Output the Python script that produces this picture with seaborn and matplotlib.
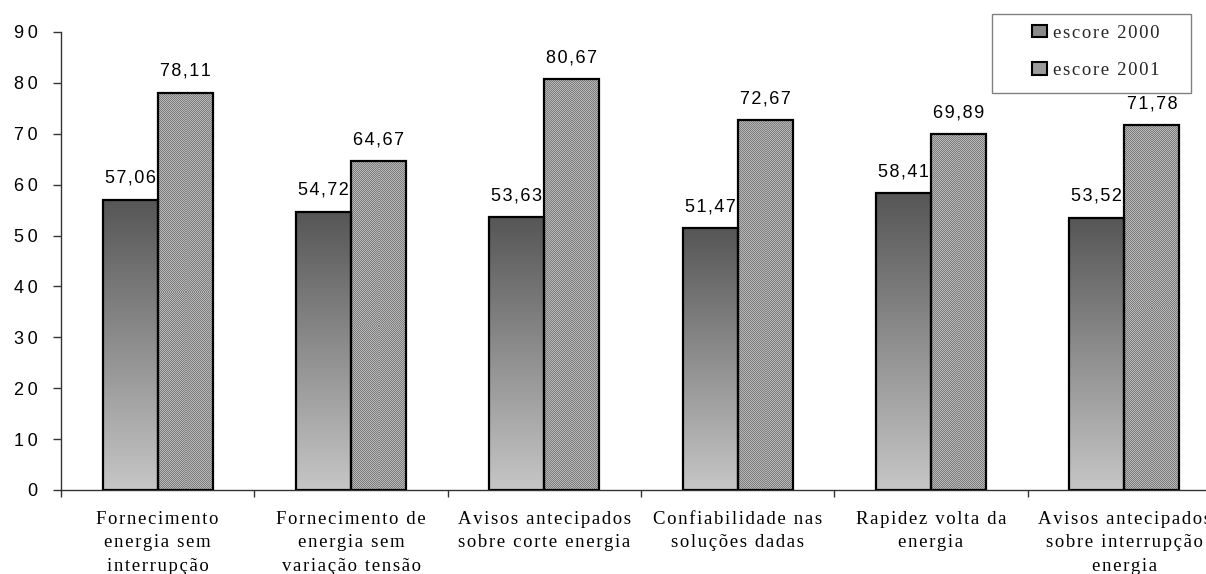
import numpy as np
import pandas as pd
import matplotlib
matplotlib.use("Agg")
import matplotlib.pyplot as plt
import seaborn as sns
from matplotlib.patches import Rectangle, Patch
from matplotlib.colors import LinearSegmentedColormap, ListedColormap

# ---- data -------------------------------------------------------------
categories = [
    "Fornecimento\nenergia sem\ninterrupção",
    "Fornecimento de\nenergia sem\nvariação tensão",
    "Avisos antecipados\nsobre corte energia",
    "Confiabilidade nas\nsoluções dadas",
    "Rapidez volta da\nenergia",
    "Avisos antecipados\nsobre interrupção\nenergia",
]
years = ["escore 2000", "escore 2001"]
scores_2000 = [57.06, 54.72, 53.63, 51.47, 58.41, 53.52]
scores_2001 = [78.11, 64.67, 80.67, 72.67, 69.89, 71.78]
y_ticks = [0, 10, 20, 30, 40, 50, 60, 70, 80, 90]

# ---- style ------------------------------------------------------------
sns.set_theme(style="white")
SANS = ["Liberation Sans", "DejaVu Sans"]
SERIF = ["Liberation Serif", "DejaVu Serif"]
plt.rcParams["font.family"] = SANS

HAIR = "\u200a"
THIN = "\u2009"


def spaced(text, sep=HAIR):
    """Letter-spaced version of a (possibly multi-line) string."""
    return "\n".join(sep.join(line) for line in text.split("\n"))


df = pd.DataFrame({
    "categoria": categories * 2,
    "ano": [years[0]] * len(categories) + [years[1]] * len(categories),
    "escore": scores_2000 + scores_2001,
})

W, H = 1206, 574
fig = plt.figure(figsize=(W / 100, H / 100), dpi=100)
fig.patch.set_facecolor("white")
ax = fig.add_axes([61 / W, 84 / H, 1160 / W, 458 / H])

sns.barplot(
    data=df, x="categoria", y="escore", hue="ano",
    width=0.57, gap=0, palette=["#8c8c8c", "#9c9c9c"], saturation=1,
    edgecolor="black", linewidth=1.6, errorbar=None, legend=False, ax=ax,
)
ax.set_xlim(-0.5, 5.5)
ax.set_ylim(0, 90)

# ---- bar fills: vertical gradient (2000) and fine checker (2001) ------
grad_cmap = LinearSegmentedColormap.from_list("g", ["#565656", "#c6c6c6"])
checker_cmap = ListedColormap(["#7e7e7e", "#b6b6b6"])
gradient = np.linspace(0, 1, 256).reshape(-1, 1)

for bar in ax.containers[0]:
    x0, y0, w, h = bar.get_x(), bar.get_y(), bar.get_width(), bar.get_height()
    bar.set_facecolor("none")
    bar.set_zorder(3)
    ax.imshow(gradient, cmap=grad_cmap, extent=(x0, x0 + w, y0, y0 + h),
              origin="upper", aspect="auto", interpolation="bilinear", zorder=2)

for bar in ax.containers[1]:
    x0, y0, w, h = bar.get_x(), bar.get_y(), bar.get_width(), bar.get_height()
    bar.set_facecolor("none")
    bar.set_zorder(3)
    p0 = ax.transData.transform((x0, y0))
    p1 = ax.transData.transform((x0 + w, y0 + h))
    nx = max(int(round(p1[0] - p0[0])), 1)
    ny = max(int(round(p1[1] - p0[1])), 1)
    checker = np.add.outer(np.arange(ny), np.arange(nx)) % 2
    ax.imshow(checker, cmap=checker_cmap, extent=(x0, x0 + w, y0, y0 + h),
              aspect="auto", interpolation="nearest", zorder=2)

ax.set_xlim(-0.5, 5.5)
ax.set_ylim(0, 90)

# ---- value labels ----------------------------------------------------
for container in ax.containers:
    for bar in container:
        v = bar.get_height()
        ax.annotate(spaced(f"{v:.2f}".replace(".", ",")),
                    (bar.get_x() + bar.get_width() / 2, v),
                    xytext=(0, 12), textcoords="offset points",
                    ha="center", va="baseline", fontsize=13,
                    family=SANS, color="black", zorder=4)

# ---- axes ------------------------------------------------------------
sns.despine(ax=ax)
for side in ("left", "bottom"):
    ax.spines[side].set_color("#333333")
    ax.spines[side].set_linewidth(1.0)

ax.set_yticks(y_ticks)
ax.set_yticklabels([THIN.join(str(t)) for t in y_ticks], fontsize=13, family=SANS)
ax.tick_params(axis="y", left=True, length=6, width=1, color="#333333",
               pad=11, labelcolor="black")

ax.set_xticks(range(len(categories)))
ax.set_xticklabels([spaced(c) for c in categories], fontsize=13.5, family=SERIF,
                   linespacing=1.5)
ax.set_xticks(np.arange(-0.5, len(categories), 1.0), minor=True)
ax.tick_params(axis="x", which="major", bottom=True, length=0, pad=15,
               labelcolor="black")
ax.tick_params(axis="x", which="minor", bottom=True, length=5, width=1,
               color="#333333")
ax.set_xlabel("")
ax.set_ylabel("")

# ---- legend ------------------------------------------------------------
fig.patches.append(Rectangle((992 / W, 1 - 93 / H), 199 / W, 79 / H,
                             transform=fig.transFigure, facecolor="white",
                             edgecolor="#808080", linewidth=1.0, zorder=5))
handles = [
    Patch(facecolor="#8a8a8a", edgecolor="black", linewidth=1.5),
    Patch(facecolor="#9c9c9c", edgecolor="black", linewidth=1.5),
]
leg = fig.legend(handles, [spaced(y) for y in years], loc="center",
                 bbox_to_anchor=(1096 / W, 1 - 52 / H),
                 bbox_transform=fig.transFigure, frameon=False,
                 prop={"family": SERIF, "size": 13.5},
                 handlelength=0.75, handleheight=0.65, handletextpad=0.35,
                 labelspacing=1.1)
leg.set_zorder(6)

fig.savefig("out.png", dpi=100, facecolor="white")
